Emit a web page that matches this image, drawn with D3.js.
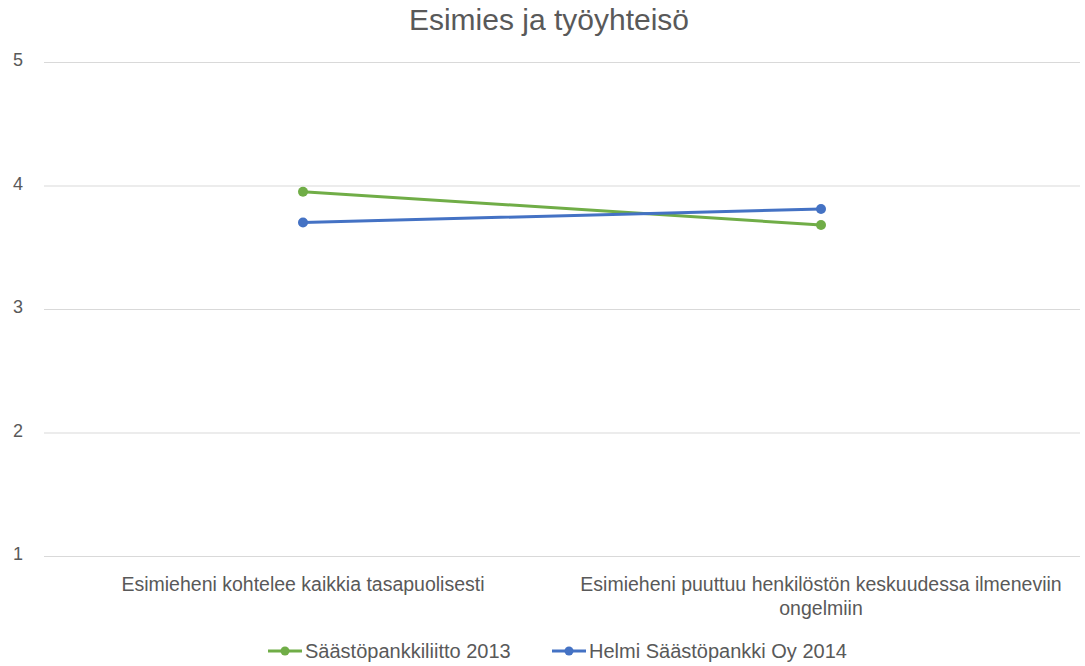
<!DOCTYPE html>
<html><head><meta charset="utf-8">
<script src="https://cdn.jsdelivr.net/npm/d3@7"></script>
<style>body{margin:0;background:#fff}</style>
</head><body>
<svg id="c" width="1085" height="666"></svg>
<script>
const title = "Esimies ja työyhteisö";
const categories = [
  ["Esimieheni kohtelee kaikkia tasapuolisesti"],
  ["Esimieheni puuttuu henkilöstön keskuudessa ilmeneviin", "ongelmiin"]
];
const seriesNames = ["Säästöpankkiliitto 2013", "Helmi Säästöpankki Oy 2014"];
const seriesColors = ["#70AD47", "#4472C4"];
const values2013 = [3.95, 3.68];
const values2014 = [3.70, 3.81];
const yTicks = [1, 2, 3, 4, 5];

const font = "'Liberation Sans', Arial, sans-serif";
const svg = d3.select("#c");
const x = d3.scaleBand().domain(d3.range(categories.length)).range([44, 1080]);
const y = d3.scaleLinear().domain([1, 5]).range([556, 62]);

svg.append("text").attr("x", 549).attr("y", 30).attr("text-anchor", "middle")
  .attr("font-family", font).attr("font-size", 30).attr("fill", "#595959").text(title);

const yAxis = d3.axisLeft(y).tickValues(yTicks).tickSize(-(1080 - 44)).tickPadding(21).tickFormat(d3.format("d"));
const ga = svg.append("g").attr("transform", "translate(44,0)").call(yAxis);
ga.select(".domain").remove();
ga.selectAll(".tick line").attr("stroke", "#d9d9d9").attr("stroke-width", 1);
ga.selectAll(".tick text").attr("font-family", font).attr("font-size", 18).attr("fill", "#595959").attr("dy", "0.2em");

const xAxis = d3.axisBottom(x).tickSize(0).tickFormat(() => "");
const gx = svg.append("g").attr("transform", "translate(0,556)").call(xAxis);
gx.select(".domain").remove();
gx.selectAll(".tick").each(function(d) {
  const t = d3.select(this).select("text").text(null)
    .attr("font-family", font).attr("font-size", 19.5).attr("fill", "#595959").attr("y", 35).attr("dy", 0);
  categories[d].forEach((ln, i) => t.append("tspan").attr("x", 0).attr("dy", i ? 24 : 0).text(ln));
});

const data = [values2013, values2014];
const line = d3.line().x((d, i) => x(i) + x.bandwidth() / 2).y(d => y(d));
data.forEach((vals, si) => {
  svg.append("path").datum(vals).attr("d", line).attr("fill", "none")
    .attr("stroke", seriesColors[si]).attr("stroke-width", 3).attr("stroke-linecap", "round");
  svg.selectAll(null).data(vals).enter().append("circle")
    .attr("cx", (d, i) => x(i) + x.bandwidth() / 2).attr("cy", d => y(d)).attr("r", 5)
    .attr("fill", seriesColors[si]);
});

const legendX = [268, 552];
seriesNames.forEach((n, i) => {
  const g = svg.append("g").attr("transform", `translate(${legendX[i]},651)`);
  g.append("line").attr("x1", 0).attr("x2", 34).attr("stroke", seriesColors[i]).attr("stroke-width", 3);
  g.append("circle").attr("cx", 17).attr("r", 4.5).attr("fill", seriesColors[i]);
  g.append("text").attr("x", 37).attr("y", 7).attr("font-family", font).attr("font-size", 20)
    .attr("fill", "#595959").text(n);
});
</script>
</body></html>
